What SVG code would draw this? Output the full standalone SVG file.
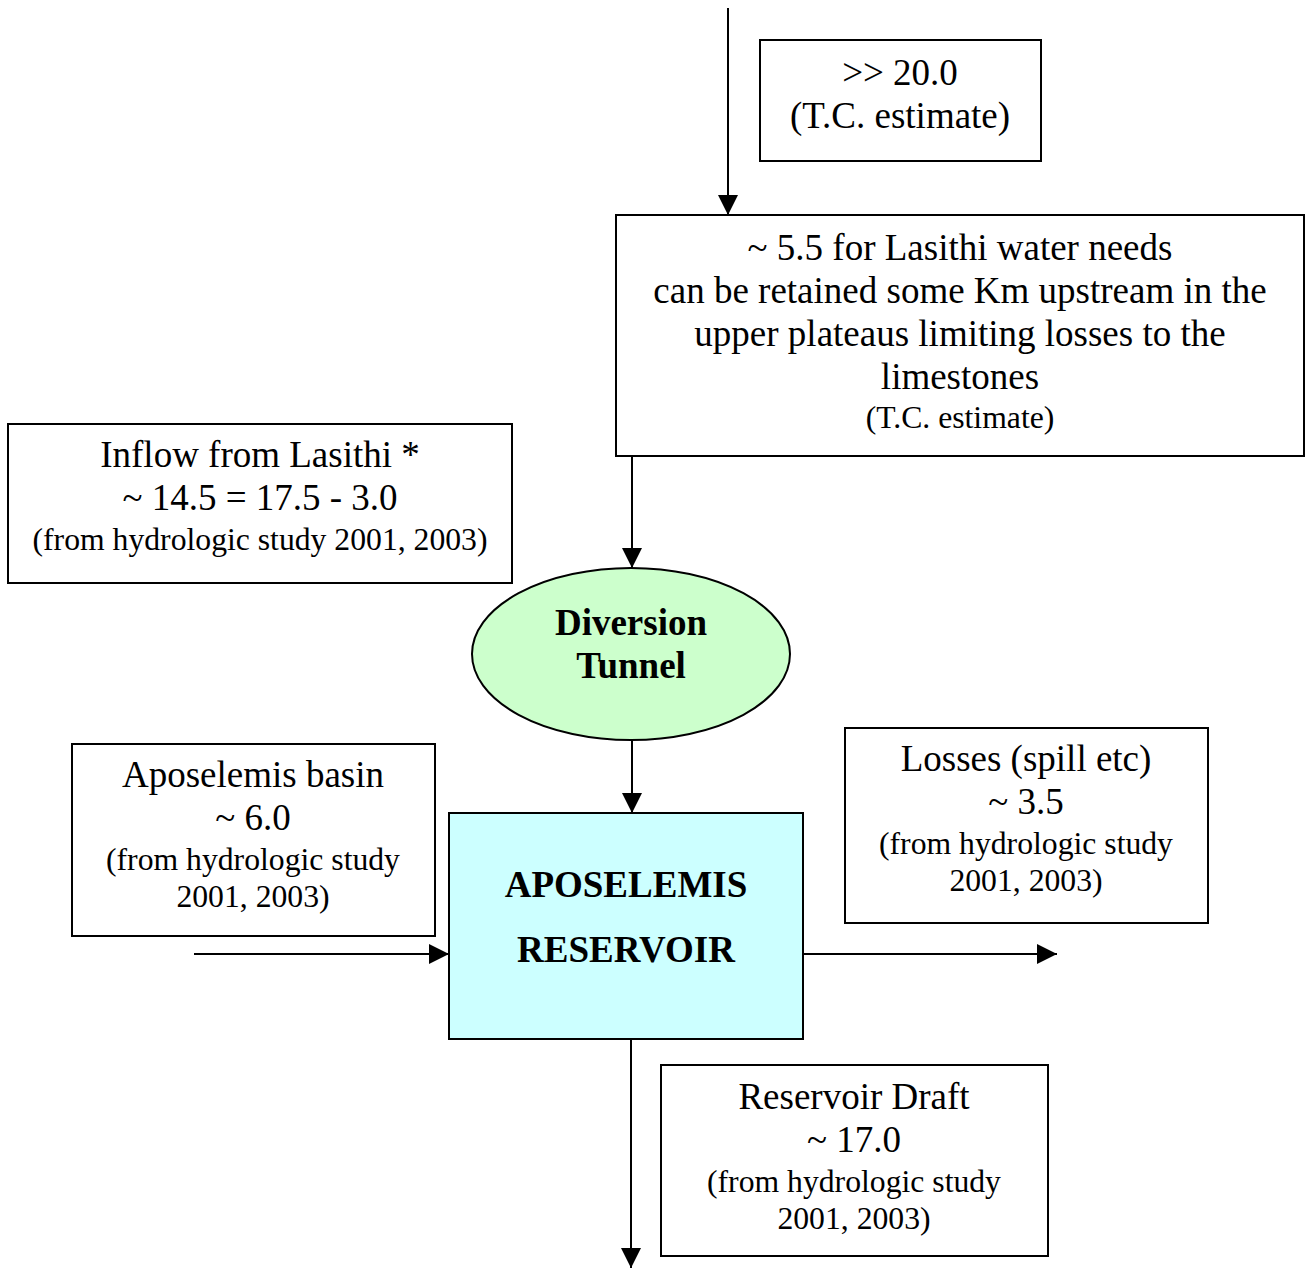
<svg xmlns="http://www.w3.org/2000/svg" width="1305" height="1268" viewBox="0 0 1305 1268">
<style>
.box{fill:#fff;stroke:#000;stroke-width:2}
.t{font-family:"Liberation Serif","Times New Roman",serif;font-size:37px;text-anchor:middle;fill:#000}
.s{font-size:31.7px}
.b{font-weight:bold}
.c{stroke:#000;stroke-width:2;fill:none;marker-end:url(#ah)}
</style>
<defs>
<marker id="ah" markerUnits="userSpaceOnUse" markerWidth="20" markerHeight="20" refX="20" refY="10" orient="auto" viewBox="0 0 20 20">
<path d="M0,0 L20,10 L0,20 Z" fill="#000"/>
</marker>
</defs>
<g id="connectors">
<line class="c" x1="728" y1="8" x2="728" y2="215"/>
<line class="c" x1="632" y1="456" x2="632" y2="568"/>
<line class="c" x1="632" y1="740" x2="632" y2="813"/>
<line class="c" x1="194" y1="954" x2="449" y2="954"/>
<line class="c" x1="803" y1="954" x2="1057" y2="954"/>
<line class="c" x1="631" y1="1039" x2="631" y2="1268"/>
</g>
<g id="n-estimate20">
<rect class="box" x="760" y="40" width="281" height="121"/>
<text class="t" x="900" y="85">&gt;&gt; 20.0</text>
<text class="t" x="900" y="128">(T.C. estimate)</text>
</g>
<g id="n-lasithi-needs">
<rect class="box" x="616" y="215" width="688" height="241"/>
<text class="t" x="960" y="260">~ 5.5 for Lasithi water needs</text>
<text class="t" x="960" y="303">can be retained some Km upstream in the</text>
<text class="t" x="960" y="346">upper plateaus limiting losses to the</text>
<text class="t" x="960" y="389">limestones</text>
<text class="t s" x="960" y="428">(T.C. estimate)</text>
</g>
<g id="n-inflow">
<rect class="box" x="8" y="424" width="504" height="159"/>
<text class="t" x="260" y="467">Inflow from Lasithi *</text>
<text class="t" x="260" y="510">~ 14.5 = 17.5 - 3.0</text>
<text class="t s" x="260" y="550">(from hydrologic study 2001, 2003)</text>
</g>
<g id="n-tunnel">
<ellipse cx="631" cy="654" rx="159" ry="86" fill="#CCFFCC" stroke="#000" stroke-width="2"/>
<text class="t b" x="631" y="635">Diversion</text>
<text class="t b" x="631" y="678">Tunnel</text>
</g>
<g id="n-reservoir">
<rect x="449" y="813" width="354" height="226" fill="#CCFFFF" stroke="#000" stroke-width="2"/>
<text class="t b" x="626" y="897">APOSELEMIS</text>
<text class="t b" x="626" y="962">RESERVOIR</text>
</g>
<g id="n-basin">
<rect class="box" x="72" y="744" width="363" height="192"/>
<text class="t" x="253" y="787">Aposelemis basin</text>
<text class="t" x="253" y="830">~ 6.0</text>
<text class="t s" x="253" y="870">(from hydrologic study</text>
<text class="t s" x="253" y="907">2001, 2003)</text>
</g>
<g id="n-losses">
<rect class="box" x="845" y="728" width="363" height="195"/>
<text class="t" x="1026" y="771">Losses (spill etc)</text>
<text class="t" x="1026" y="814">~ 3.5</text>
<text class="t s" x="1026" y="854">(from hydrologic study</text>
<text class="t s" x="1026" y="891">2001, 2003)</text>
</g>
<g id="n-draft">
<rect class="box" x="661" y="1065" width="387" height="191"/>
<text class="t" x="854" y="1109">Reservoir Draft</text>
<text class="t" x="854" y="1152">~ 17.0</text>
<text class="t s" x="854" y="1192">(from hydrologic study</text>
<text class="t s" x="854" y="1229">2001, 2003)</text>
</g>
</svg>
